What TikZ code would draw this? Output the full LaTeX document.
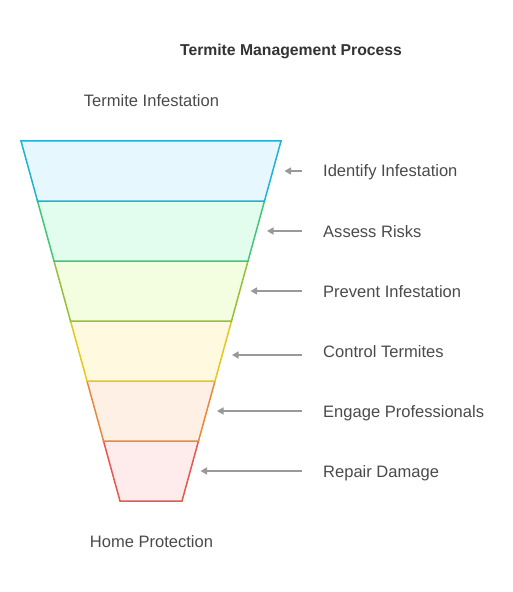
\documentclass[tikz,border=0pt]{standalone}
\usepackage{fontspec}
\setmainfont{Liberation Sans}
\usetikzlibrary{arrows.meta}
\definecolor{txt}{HTML}{4A4A4A}
\definecolor{ttl}{HTML}{333333}
\definecolor{arr}{HTML}{999999}
\definecolor{s1}{HTML}{1FB2D6}\definecolor{f1}{HTML}{E6F7FD}
\definecolor{s2}{HTML}{45C47B}\definecolor{f2}{HTML}{E2FCEE}
\definecolor{s3}{HTML}{95C13A}\definecolor{f3}{HTML}{F3FDE0}
\definecolor{s4}{HTML}{E6C71C}\definecolor{f4}{HTML}{FEF9DF}
\definecolor{s5}{HTML}{E8883C}\definecolor{f5}{HTML}{FEF0E4}
\definecolor{s6}{HTML}{E6574D}\definecolor{f6}{HTML}{FEEBEB}
\tikzset{
  lbl/.style={font=\fontsize{16.6}{19}\selectfont, text=txt, inner sep=0pt, anchor=base west},
  endlbl/.style={font=\fontsize{16.6}{19}\selectfont, text=txt, inner sep=0pt, anchor=base},
  band/.style={line width=1.5bp, line join=miter},
  pointer/.style={draw=arr, line width=1.4bp, -{Triangle[length=6.5bp,width=7bp]}}
}
\begin{document}
\begin{tikzpicture}[x=1bp,y=-1bp]
\useasboundingbox (0,0) rectangle (513,592);
% funnel bands (bottom first)
\draw[band, draw=s6, fill=f6] (103.5,441) -- (198.5,441) -- (182,501) -- (120,501) -- cycle;
\draw[band, draw=s5, fill=f5] (87,381) -- (215,381) -- (198.5,441) -- (103.5,441) -- cycle;
\draw[band, draw=s4, fill=f4] (70.5,321) -- (231.5,321) -- (215,381) -- (87,381) -- cycle;
\draw[band, draw=s3, fill=f3] (54,261) -- (248,261) -- (231.5,321) -- (70.5,321) -- cycle;
\draw[band, draw=s2, fill=f2] (37.5,201) -- (264.5,201) -- (248,261) -- (54,261) -- cycle;
\draw[band, draw=s1, fill=f1] (21,141) -- (281,141) -- (264.5,201) -- (37.5,201) -- cycle;
% tips of pointers
\coordinate (t1) at (284.5,171);
\coordinate (t2) at (267,231);
\coordinate (t3) at (250.5,291);
\coordinate (t4) at (232,355);
\coordinate (t5) at (217,411);
\coordinate (t6) at (200.5,471);
% texts
\node[font=\bfseries\fontsize{15.8}{19}\selectfont, text=ttl, inner sep=0pt, anchor=base] (title) at (291,56) {Termite Management Process};
\node[endlbl] (top) at (151.5,107) {Termite Infestation};
\node[endlbl] (bot) at (151.5,547) {Home Protection};
\node[lbl] (l1) at (323,177) {Identify Infestation};
\node[lbl] (l2) at (323,237) {Assess Risks};
\node[lbl] (l3) at (323,297) {Prevent Infestation};
\node[lbl] (l4) at (323,357) {Control Termites};
\node[lbl] (l5) at (323,417) {Engage Professionals};
\node[lbl] (l6) at (323,477) {Repair Damage};
% pointers
\draw[pointer] (302,0 |- t1) -- (t1);
\draw[pointer] (302,0 |- t2) -- (t2);
\draw[pointer] (302,0 |- t3) -- (t3);
\draw[pointer] (302,0 |- t4) -- (t4);
\draw[pointer] (302,0 |- t5) -- (t5);
\draw[pointer] (302,0 |- t6) -- (t6);
\end{tikzpicture}
\end{document}
